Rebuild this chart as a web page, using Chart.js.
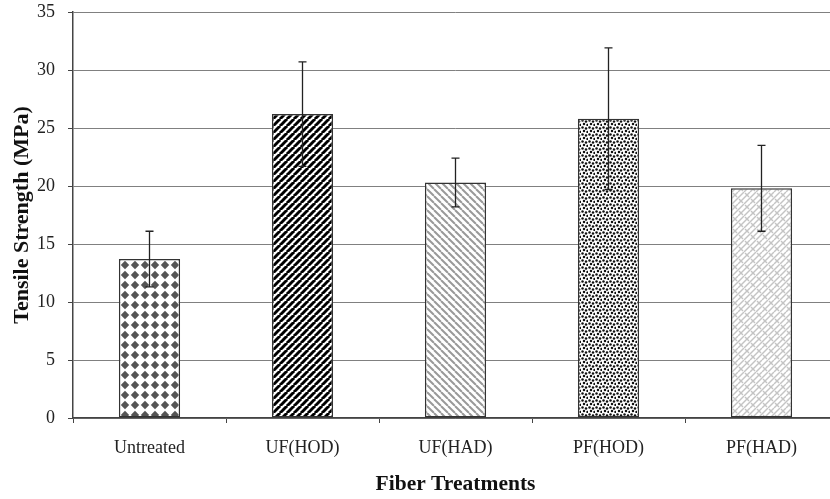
<!DOCTYPE html>
<html><head><meta charset="utf-8">
<script src="https://cdn.jsdelivr.net/npm/chart.js@4/dist/chart.umd.min.js"></script>
<style>html,body{margin:0;padding:0;background:#fff;overflow:hidden}#wrap{width:830px;height:499px;overflow:hidden}</style>
</head><body><div id="wrap"><canvas id="c" width="840" height="499"></canvas></div>
<script>
const categories = ['Untreated', 'UF(HOD)', 'UF(HAD)', 'PF(HOD)', 'PF(HAD)'];
const strength = [13.7, 26.2, 20.3, 25.8, 19.8];
const errors = [2.4, 4.5, 2.1, 6.1, 3.7];
const yTicks = [0, 5, 10, 15, 20, 25, 30, 35];

function makePattern(w, h, draw) {
  const c = document.createElement('canvas'); c.width = w; c.height = h;
  const x = c.getContext('2d'); x.fillStyle = '#fff'; x.fillRect(0, 0, w, h);
  draw(x); return x.createPattern(c, 'repeat');
}
const patterns = [
  makePattern(10, 10, x => { x.fillStyle = '#555'; x.beginPath(); x.moveTo(5, 0.8); x.lineTo(9.2, 5); x.lineTo(5, 9.2); x.lineTo(0.8, 5); x.closePath(); x.fill(); }),
  makePattern(7, 7, x => { x.strokeStyle = '#000'; x.lineWidth = 2.6; for (let k = -7; k <= 14; k += 7) { x.beginPath(); x.moveTo(k - 7, 7); x.lineTo(k, 0); x.stroke(); x.beginPath(); x.moveTo(k, 7); x.lineTo(k + 7, 0); x.stroke(); } }),
  makePattern(7, 7, x => { x.strokeStyle = '#999'; x.lineWidth = 2; for (let k = -7; k <= 14; k += 7) { x.beginPath(); x.moveTo(k, 0); x.lineTo(k + 7, 7); x.stroke(); } }),
  makePattern(7, 7, x => { x.fillStyle = '#111'; [[1.5,1.5],[5,2.5],[3,5],[6.5,6]].forEach(p => { x.beginPath(); x.arc(p[0], p[1], 1.25, 0, Math.PI * 2); x.fill(); }); }),
  makePattern(12, 12, x => { x.strokeStyle = '#c4c4c4'; x.lineWidth = 1.4; for (let k = -12; k <= 24; k += 6) { x.beginPath(); x.moveTo(k, 12); x.lineTo(k + 12, 0); x.stroke(); }
    [[3,3],[9,9]].forEach(p => { x.beginPath(); x.moveTo(p[0] - 2, p[1] - 2); x.lineTo(p[0] + 2, p[1] + 2); x.stroke(); }); })
];

const errorBars = {
  id: 'errorBars',
  afterDatasetsDraw(chart) {
    const ctx = chart.ctx, y = chart.scales.y, meta = chart.getDatasetMeta(0);
    ctx.save(); ctx.strokeStyle = '#222'; ctx.lineWidth = 1.3;
    meta.data.forEach((bar, i) => {
      const top = y.getPixelForValue(strength[i] + errors[i]);
      const bot = y.getPixelForValue(strength[i] - errors[i]);
      ctx.beginPath(); ctx.moveTo(bar.x, top); ctx.lineTo(bar.x, bot);
      ctx.moveTo(bar.x - 4, top); ctx.lineTo(bar.x + 4, top);
      ctx.moveTo(bar.x - 4, bot); ctx.lineTo(bar.x + 4, bot); ctx.stroke();
    });
    ctx.restore();
  }
};

new Chart(document.getElementById('c'), {
  type: 'bar',
  data: { labels: categories, datasets: [{ data: strength, backgroundColor: patterns, borderColor: '#333', borderWidth: 1.5, borderSkipped: false, barPercentage: 0.4, categoryPercentage: 1 }] },
  options: {
    responsive: false, animation: false, devicePixelRatio: 1,
    layout: { padding: { top: 12, right: 2, left: 0, bottom: 0 } },
    plugins: { legend: { display: false }, tooltip: { enabled: false } },
    scales: {
      x: {
        grid: { display: true, drawOnChartArea: false, drawTicks: true, tickLength: 5, tickColor: '#444', offset: true },
        border: { color: '#444', width: 1.5 },
        ticks: { color: '#222', padding: 14, font: { family: 'Liberation Serif', size: 18 } },
        title: { display: true, text: 'Fiber Treatments', color: '#111', padding: { top: 4, bottom: 2 }, font: { family: 'Liberation Serif', size: 21.5, weight: 'bold' } },
        afterFit(s) { s.height = 81; s.paddingLeft = 0; s.paddingRight = 0; }
      },
      y: {
        min: 0, max: 35,
        afterBuildTicks(s) { s.ticks = yTicks.map(v => ({ value: v })); },
        grid: { color: '#808080', lineWidth: 1, drawTicks: true, tickLength: 5, tickColor: '#444' },
        border: { color: '#444', width: 1.5 },
        ticks: { color: '#222', padding: 13, font: { family: 'Liberation Serif', size: 18 } },
        title: { display: true, text: 'Tensile Strength (MPa)', color: '#111', padding: { top: 9, bottom: 4 }, font: { family: 'Liberation Serif', size: 22, weight: 'bold' } },
        afterFit(s) { s.width = 73; s.paddingTop = 0; s.paddingBottom = 0; }
      }
    }
  },
  plugins: [errorBars]
});
</script></body></html>
